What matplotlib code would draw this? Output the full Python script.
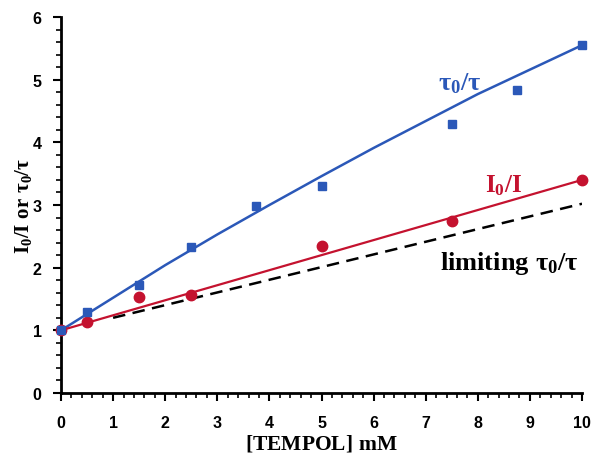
import numpy as np
import matplotlib
matplotlib.use("Agg")
import matplotlib.pyplot as plt
from matplotlib.ticker import MultipleLocator

# measured lifetime ratio tau0/tau (blue squares)
tau_x = [0, 0.5, 1.5, 2.5, 3.75, 5, 7.5, 8.75, 10]
tau_y = [1.0, 1.3, 1.73, 2.33, 2.98, 3.3, 4.3, 4.83, 5.55]

# fitted curve through tau0/tau
tau_fit_x = [0, 1, 2, 3, 4, 5, 6, 7, 8, 9, 10]
tau_fit_y = [1.0, 1.52, 2.04, 2.53, 3.00, 3.46, 3.91, 4.34, 4.77, 5.16, 5.55]

# intensity ratio I0/I (red circles)
int_x = [0, 0.5, 1.5, 2.5, 5, 7.5, 10]
int_y = [1.0, 1.13, 1.53, 1.57, 2.35, 2.75, 3.4]

# fitted line through I0/I
int_fit_x = [0, 10]
int_fit_y = [1.0, 3.4]

# limiting tau0/tau (dashed)
lim_x = [1.0, 10]
lim_y = [1.2, 3.02]

blue = '#2b58b8'
red = '#c4122f'

plt.rcParams['mathtext.fontset'] = 'custom'
plt.rcParams['mathtext.rm'] = 'Liberation Serif:bold'
plt.rcParams['mathtext.it'] = 'Liberation Serif:bold'
plt.rcParams['mathtext.bf'] = 'Liberation Serif:bold'

fig = plt.figure(figsize=(5.94, 4.60), dpi=100)
ax = fig.add_axes((61 / 594, 1 - 394 / 460, 521 / 594, 376 / 460))

ax.plot(tau_fit_x, tau_fit_y, color=blue, lw=1.8, zorder=2)
ax.plot(int_fit_x, int_fit_y, color=red, lw=1.6, zorder=2)
ax.plot(lim_x, lim_y, color='black', lw=1.8, ls=(0, (5, 3)), zorder=2)
ax.plot(int_x, int_y, 'o', color=red, ms=7.5, clip_on=False, zorder=3)
ax.plot(tau_x, tau_y, 's', color=blue, ms=6, clip_on=False, zorder=4)

ax.set_xlim(0, 10)
ax.set_ylim(0, 6)
ax.xaxis.set_major_locator(MultipleLocator(1))
ax.xaxis.set_minor_locator(MultipleLocator(0.2))
ax.yaxis.set_major_locator(MultipleLocator(1))
ax.yaxis.set_minor_locator(MultipleLocator(0.2))

for side in ['top', 'right']:
    ax.spines[side].set_visible(False)
for side in ['left', 'bottom']:
    ax.spines[side].set_linewidth(2)

ax.tick_params(which='major', direction='out', length=6, width=1.5, pad=8)
ax.tick_params(axis='x', which='major', pad=10)
ax.tick_params(which='minor', direction='out', length=3.5, width=1.2)
for lbl in ax.get_xticklabels() + ax.get_yticklabels():
    lbl.set_fontfamily('Liberation Sans')
    lbl.set_fontweight('bold')
    lbl.set_fontsize(11.5)

ax.set_xlabel(r'$\mathrm{[TEMPOL]\ mM}$', fontsize=15.5, labelpad=1)
ax.set_ylabel(r'$\mathrm{I_0/I\ or\ \tau_0/\tau}$', fontsize=15, labelpad=-1)

ax.text(7.66, 4.96, r'$\mathrm{\tau_0/\tau}$', color=blue, fontsize=19,
        ha='center', va='center')
ax.text(8.5, 3.32, r'$\mathrm{I_0/I}$', color=red, fontsize=18,
        ha='center', va='center')
ax.text(8.6, 2.08, r'$\mathrm{limiting\ \tau_0/\tau}$', color='black',
        fontsize=19, ha='center', va='center')

fig.savefig('out.png', dpi=100)
